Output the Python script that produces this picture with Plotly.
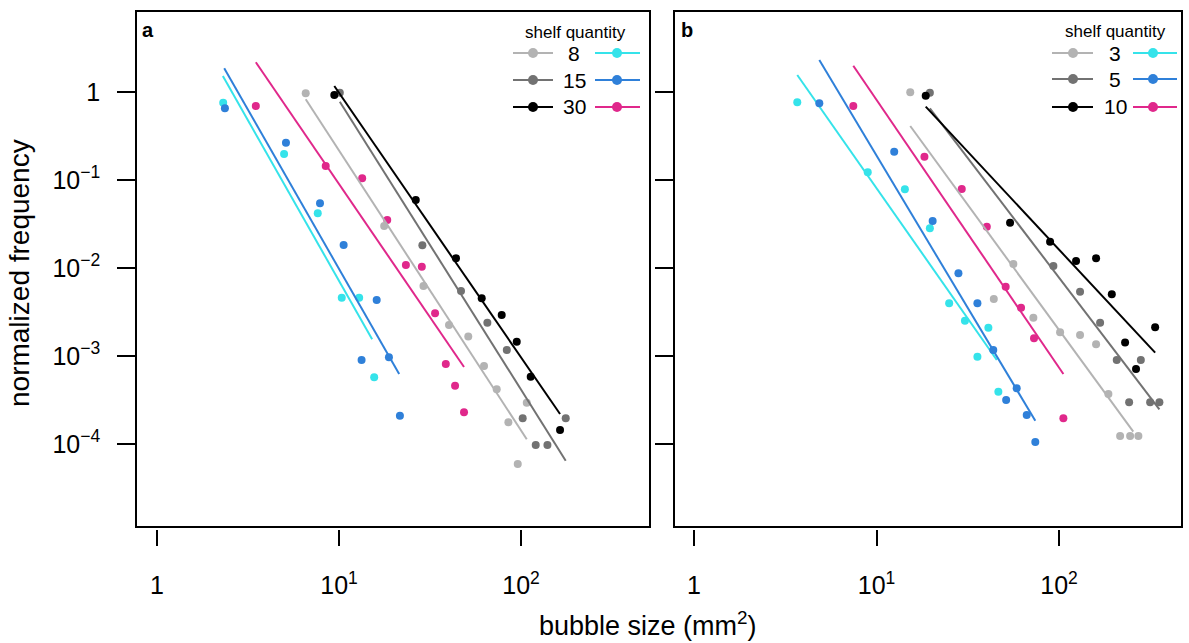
import plotly.graph_objects as go

W, H = 1189, 643

# ---------------- data ----------------
# Panel a: shelf quantity 8 / 15 / 30  (gray series and colored series)
a_q8g_x = [6.56, 17.7, 29.1, 40.2, 51.3, 62.6, 73.5, 85.2, 95.9, 107.5]
a_q8g_y = [0.97, 0.030, 0.00624, 0.00225, 0.00166, 0.00077, 0.000418, 0.000177, 0.0000593, 0.000295]
a_q15g_x = [10.1, 28.7, 46.8, 65.3, 83.5, 102.1, 120.4, 139.6, 176.0]
a_q15g_y = [0.98, 0.0181, 0.00548, 0.00239, 0.00117, 0.000196, 0.0000974, 0.0000974, 0.000196]
a_q30g_x = [9.42, 26.4, 43.9, 60.8, 78.3, 94.7, 113.0, 163.8]
a_q30g_y = [0.925, 0.0593, 0.0129, 0.00453, 0.00292, 0.00145, 0.000582, 0.000144]
a_q8c_x = [2.31, 4.99, 7.64, 10.35, 12.9, 15.6]
a_q8c_y = [0.756, 0.197, 0.0419, 0.0046, 0.0046, 0.000573]
a_q15c_x = [2.36, 5.11, 7.86, 10.6, 16.1, 13.3, 18.8, 21.6]
a_q15c_y = [0.653, 0.265, 0.0543, 0.0182, 0.00433, 0.000901, 0.000966, 0.00021]
a_q30c_x = [3.49, 8.45, 13.4, 18.4, 23.3, 28.5, 33.7, 38.6, 43.4, 48.6]
a_q30c_y = [0.693, 0.144, 0.1045, 0.0351, 0.0108, 0.01035, 0.00305, 0.00081, 0.000459, 0.000229]
# fitted power-law lines (start / end)
a_fit_q8g_x, a_fit_q8g_y = [6.56, 107.5], [0.826, 0.000113]
a_fit_q15g_x, a_fit_q15g_y = [10.1, 176.0], [0.776, 0.0000646]
a_fit_q30g_x, a_fit_q30g_y = [9.42, 163.8], [1.17, 0.000219]
a_fit_q8c_x, a_fit_q8c_y = [2.30, 15.2], [1.52, 0.00155]
a_fit_q15c_x, a_fit_q15c_y = [2.34, 21.4], [1.86, 0.000624]
a_fit_q30c_x, a_fit_q30c_y = [3.49, 48.6], [2.18, 0.00075]

# Panel b: shelf quantity 3 / 5 / 10
b_q3g_x = [15.3, 43.9, 56.2, 72.3, 101.3, 130.3, 159.5, 186.3, 216, 245, 272]
b_q3g_y = [0.99, 0.00444, 0.0111, 0.00272, 0.00186, 0.00173, 0.00136, 0.00037, 0.000123, 0.000123, 0.000123]
b_q5g_x = [19.6, 93.1, 130.3, 167.8, 207, 280.5, 242, 315.5, 354.5]
b_q5g_y = [0.98, 0.01054, 0.00538, 0.00239, 0.000901, 0.000901, 0.000298, 0.000298, 0.000298]
b_q10g_x = [18.6, 53.9, 89.3, 123.9, 159.5, 194.5, 230, 264, 336]
b_q10g_y = [0.908, 0.0327, 0.0199, 0.0120, 0.0129, 0.00502, 0.00142, 0.000711, 0.00212]
b_q3c_x = [3.68, 8.95, 14.3, 19.6, 25.0, 30.5, 41.0, 35.7, 46.5]
b_q3c_y = [0.764, 0.1225, 0.0784, 0.0283, 0.00397, 0.00252, 0.0021, 0.00098, 0.000393]
b_q5c_x = [4.86, 12.5, 20.3, 28.1, 35.7, 43.6, 58.6, 51.3, 66.5, 74.1]
b_q5c_y = [0.744, 0.210, 0.0342, 0.00871, 0.00397, 0.00117, 0.000429, 0.000316, 0.000214, 0.000105]
b_q10c_x = [7.46, 18.3, 29.3, 40.2, 51.0, 61.9, 72.9, 105.6]
b_q10c_y = [0.693, 0.184, 0.079, 0.0295, 0.00613, 0.00354, 0.00159, 0.000196]
b_fit_q3g_x, b_fit_q3g_y = [15.3, 255], [0.411, 0.000138]
b_fit_q5g_x, b_fit_q5g_y = [19.6, 354.5], [0.653, 0.000248]
b_fit_q10g_x, b_fit_q10g_y = [18.6, 336], [0.681, 0.00109]
b_fit_q3c_x, b_fit_q3c_y = [3.68, 45.6], [1.56, 0.000901]
b_fit_q5c_x, b_fit_q5c_y = [4.86, 74.1], [2.31, 0.000184]
b_fit_q10c_x, b_fit_q10c_y = [7.46, 105.6], [1.99, 0.000624]

a_labels = ["8", "15", "30"]
b_labels = ["3", "5", "10"]
x_tickvals = [1, 10, 100]
x_ticktext = ["1", "10<sup>1</sup>", "10<sup>2</sup>"]
y_tickvals = [1, 0.1, 0.01, 0.001, 0.0001]
y_ticktext = ["1", "10<sup>\u22121</sup>", "10<sup>\u22122</sup>", "10<sup>\u22123</sup>", "10<sup>\u22124</sup>"]

# ---------------- styling ----------------
C_LG = "#b3b3b3"
C_MG = "#727272"
C_BK = "#000000"
C_CY = "#35e3ea"
C_BL = "#2f80d9"
C_MA = "#e0288b"
FONT = "Liberation Sans, Arial, Helvetica, sans-serif"

fig = go.Figure()

def add_series(x, y, fx, fy, color, xa, ya):
    fig.add_trace(go.Scatter(x=fx, y=fy, mode="lines", line=dict(color=color, width=2),
                             xaxis=xa, yaxis=ya, showlegend=False, hoverinfo="skip"))
    fig.add_trace(go.Scatter(x=x, y=y, mode="markers", marker=dict(color=color, size=8),
                             xaxis=xa, yaxis=ya, showlegend=False))

add_series(a_q8c_x, a_q8c_y, a_fit_q8c_x, a_fit_q8c_y, C_CY, "x", "y")
add_series(a_q15c_x, a_q15c_y, a_fit_q15c_x, a_fit_q15c_y, C_BL, "x", "y")
add_series(a_q30c_x, a_q30c_y, a_fit_q30c_x, a_fit_q30c_y, C_MA, "x", "y")
add_series(a_q8g_x, a_q8g_y, a_fit_q8g_x, a_fit_q8g_y, C_LG, "x", "y")
add_series(a_q15g_x, a_q15g_y, a_fit_q15g_x, a_fit_q15g_y, C_MG, "x", "y")
add_series(a_q30g_x, a_q30g_y, a_fit_q30g_x, a_fit_q30g_y, C_BK, "x", "y")

add_series(b_q3c_x, b_q3c_y, b_fit_q3c_x, b_fit_q3c_y, C_CY, "x2", "y2")
add_series(b_q5c_x, b_q5c_y, b_fit_q5c_x, b_fit_q5c_y, C_BL, "x2", "y2")
add_series(b_q10c_x, b_q10c_y, b_fit_q10c_x, b_fit_q10c_y, C_MA, "x2", "y2")
add_series(b_q3g_x, b_q3g_y, b_fit_q3g_x, b_fit_q3g_y, C_LG, "x2", "y2")
add_series(b_q5g_x, b_q5g_y, b_fit_q5g_x, b_fit_q5g_y, C_MG, "x2", "y2")
add_series(b_q10g_x, b_q10g_y, b_fit_q10g_x, b_fit_q10g_y, C_BK, "x2", "y2")

# dummy traces so the offset tick axes exist
fig.add_trace(go.Scatter(x=[None], y=[None], xaxis="x3", yaxis="y", showlegend=False))
fig.add_trace(go.Scatter(x=[None], y=[None], xaxis="x4", yaxis="y2", showlegend=False))

def px(x):
    return x / W

def py(y):
    return 1 - y / H

XA_RANGE = [-0.110, 2.703]
XB_RANGE = [-0.104, 2.668]
Y_RANGE = [-4.932, 0.909]
DOM_A = [px(137), px(649)]
DOM_B = [px(675), px(1181)]
DOM_Y = [py(526), py(12)]
tickfont = dict(family=FONT, size=25, color="black")

box = dict(type="log", showline=True, mirror=True, linecolor="black", linewidth=1.6,
           showgrid=False, zeroline=False, ticks="", showticklabels=False)
fig.update_layout(
    xaxis=dict(box, domain=DOM_A, range=XA_RANGE, anchor="y"),
    xaxis2=dict(box, domain=DOM_B, range=XB_RANGE, anchor="y2"),
    yaxis=dict(box, domain=DOM_Y, range=Y_RANGE, anchor="x", ticks="outside", ticklen=18,
               tickwidth=1.6, tickcolor="black", tickvals=y_tickvals, ticktext=y_ticktext,
               showticklabels=True, tickfont=tickfont, ticklabelstandoff=12),
    yaxis2=dict(box, domain=DOM_Y, range=Y_RANGE, anchor="x2", ticks="outside", ticklen=18,
                tickwidth=1.6, tickcolor="black", tickvals=y_tickvals, showticklabels=False),
)
offs = dict(type="log", anchor="free", position=py(529), showline=False,
            showgrid=False, zeroline=False, ticks="outside", ticklen=16, tickwidth=1.6,
            tickcolor="black", tickvals=x_tickvals, ticktext=x_ticktext, tickfont=tickfont,
            ticklabelstandoff=18)
fig.update_layout(
    xaxis3=dict(offs, overlaying="x", range=XA_RANGE),
    xaxis4=dict(offs, overlaying="x2", range=XB_RANGE),
)

# ---------------- text ----------------
ann = []

def text(x, y, s, size, angle=0):
    ann.append(dict(x=px(x), y=py(y), xref="paper", yref="paper", text=s, textangle=angle,
                    xanchor="center", yanchor="middle", showarrow=False,
                    font=dict(family=FONT, size=size, color="black")))

text(20, 273, "normalized frequency", 28, -90)
text(648, 624, "bubble size (mm<sup>2</sup>)", 27)
text(148, 30, "<b>a</b>", 20)
text(687, 30, "<b>b</b>", 20)

shapes = []

def legend(title_x, title_y, rows_y, c1, num_x, c2, labels):
    text(title_x, title_y, "shelf quantity", 17)
    greys = [C_LG, C_MG, C_BK]
    colors = [C_CY, C_BL, C_MA]
    for ry, lab, g, c in zip(rows_y, labels, greys, colors):
        text(num_x, ry, lab, 21)
        for (x0, x1, xm), col in ((c1, g), (c2, c)):
            shapes.append(dict(type="line", xref="paper", yref="paper", x0=px(x0), x1=px(x1),
                               y0=py(ry), y1=py(ry), line=dict(color=col, width=2)))
            shapes.append(dict(type="circle", xref="paper", yref="paper", xsizemode="pixel",
                               ysizemode="pixel", xanchor=px(xm), yanchor=py(ry),
                               x0=-5, x1=5, y0=-5, y1=5, fillcolor=col, line=dict(width=0)))

legend(575, 33, [53, 80, 107], (513, 553, 533), 574, (595, 640, 617), a_labels)
legend(1115, 32, [53, 79, 107], (1052, 1093, 1073), 1115, (1133, 1177, 1153), b_labels)

fig.update_layout(
    width=W, height=H, margin=dict(l=0, r=0, t=0, b=0),
    paper_bgcolor="white", plot_bgcolor="white",
    annotations=ann, shapes=shapes, showlegend=False,
    font=dict(family=FONT, color="black"),
)

fig.write_html("out.html")
